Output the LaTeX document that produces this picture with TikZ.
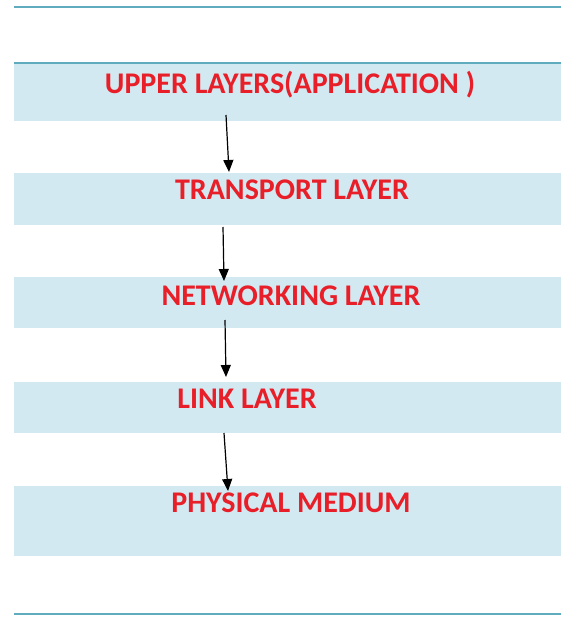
\documentclass[tikz,border=0pt]{standalone}
\usepackage{fontspec}
\setmainfont{Carlito}
\usetikzlibrary{arrows.meta}
\definecolor{bandblue}{RGB}{210,233,241}
\definecolor{ruleteal}{RGB}{95,172,190}
\definecolor{labelred}{RGB}{232,30,40}
\tikzset{
  band/.style={fill=bandblue, draw=none},
  rulebar/.style={draw=ruleteal, line width=2pt},
  layertext/.style={text=labelred, font=\bfseries\fontsize{30}{34}\selectfont, inner sep=0pt},
  downarrow/.style={draw=black, line width=1.2pt, -{Triangle[length=12pt,width=10pt]}}
}
\begin{document}
\begin{tikzpicture}[x=1pt,y=-1pt]
  \useasboundingbox[fill=white] (0,0) rectangle (561,617);
  % light blue bands behind each layer
  \fill[band] (14,64) rectangle (561,121);
  \fill[band] (14,173) rectangle (561,225);
  \fill[band] (14,277) rectangle (561,328);
  \fill[band] (14,382) rectangle (561,433);
  \fill[band] (14,486) rectangle (561,556);
  % horizontal rules
  \draw[rulebar] (14,7.5) -- (561,7.5);
  \draw[rulebar] (14,63.5) -- (561,63.5);
  \draw[rulebar] (14,613.5) -- (561,613.5);
  % layer labels
  \node[layertext] (upper) at (290,85) {UPPER LAYERS(APPLICATION )};
  \node[layertext] (transport) at (292,190) {TRANSPORT LAYER};
  \node[layertext] (network) at (291,296) {NETWORKING LAYER};
  \node[layertext] (link) at (247,399) {LINK LAYER};
  \node[layertext] (physical) at (291,503) {PHYSICAL MEDIUM};
  % arrow end points
  \coordinate (a1s) at (226,115);
  \coordinate (a1e) at (229,172);
  \coordinate (a2s) at (223,227);
  \coordinate (a2e) at (224,281);
  \coordinate (a3s) at (225,320);
  \coordinate (a3e) at (226,377);
  \coordinate (a4s) at (224,433);
  \coordinate (a4e) at (228,491);
  \draw[downarrow] (a1s) -- (a1e);
  \draw[downarrow] (a2s) -- (a2e);
  \draw[downarrow] (a3s) -- (a3e);
  \draw[downarrow] (a4s) -- (a4e);
\end{tikzpicture}
\end{document}
